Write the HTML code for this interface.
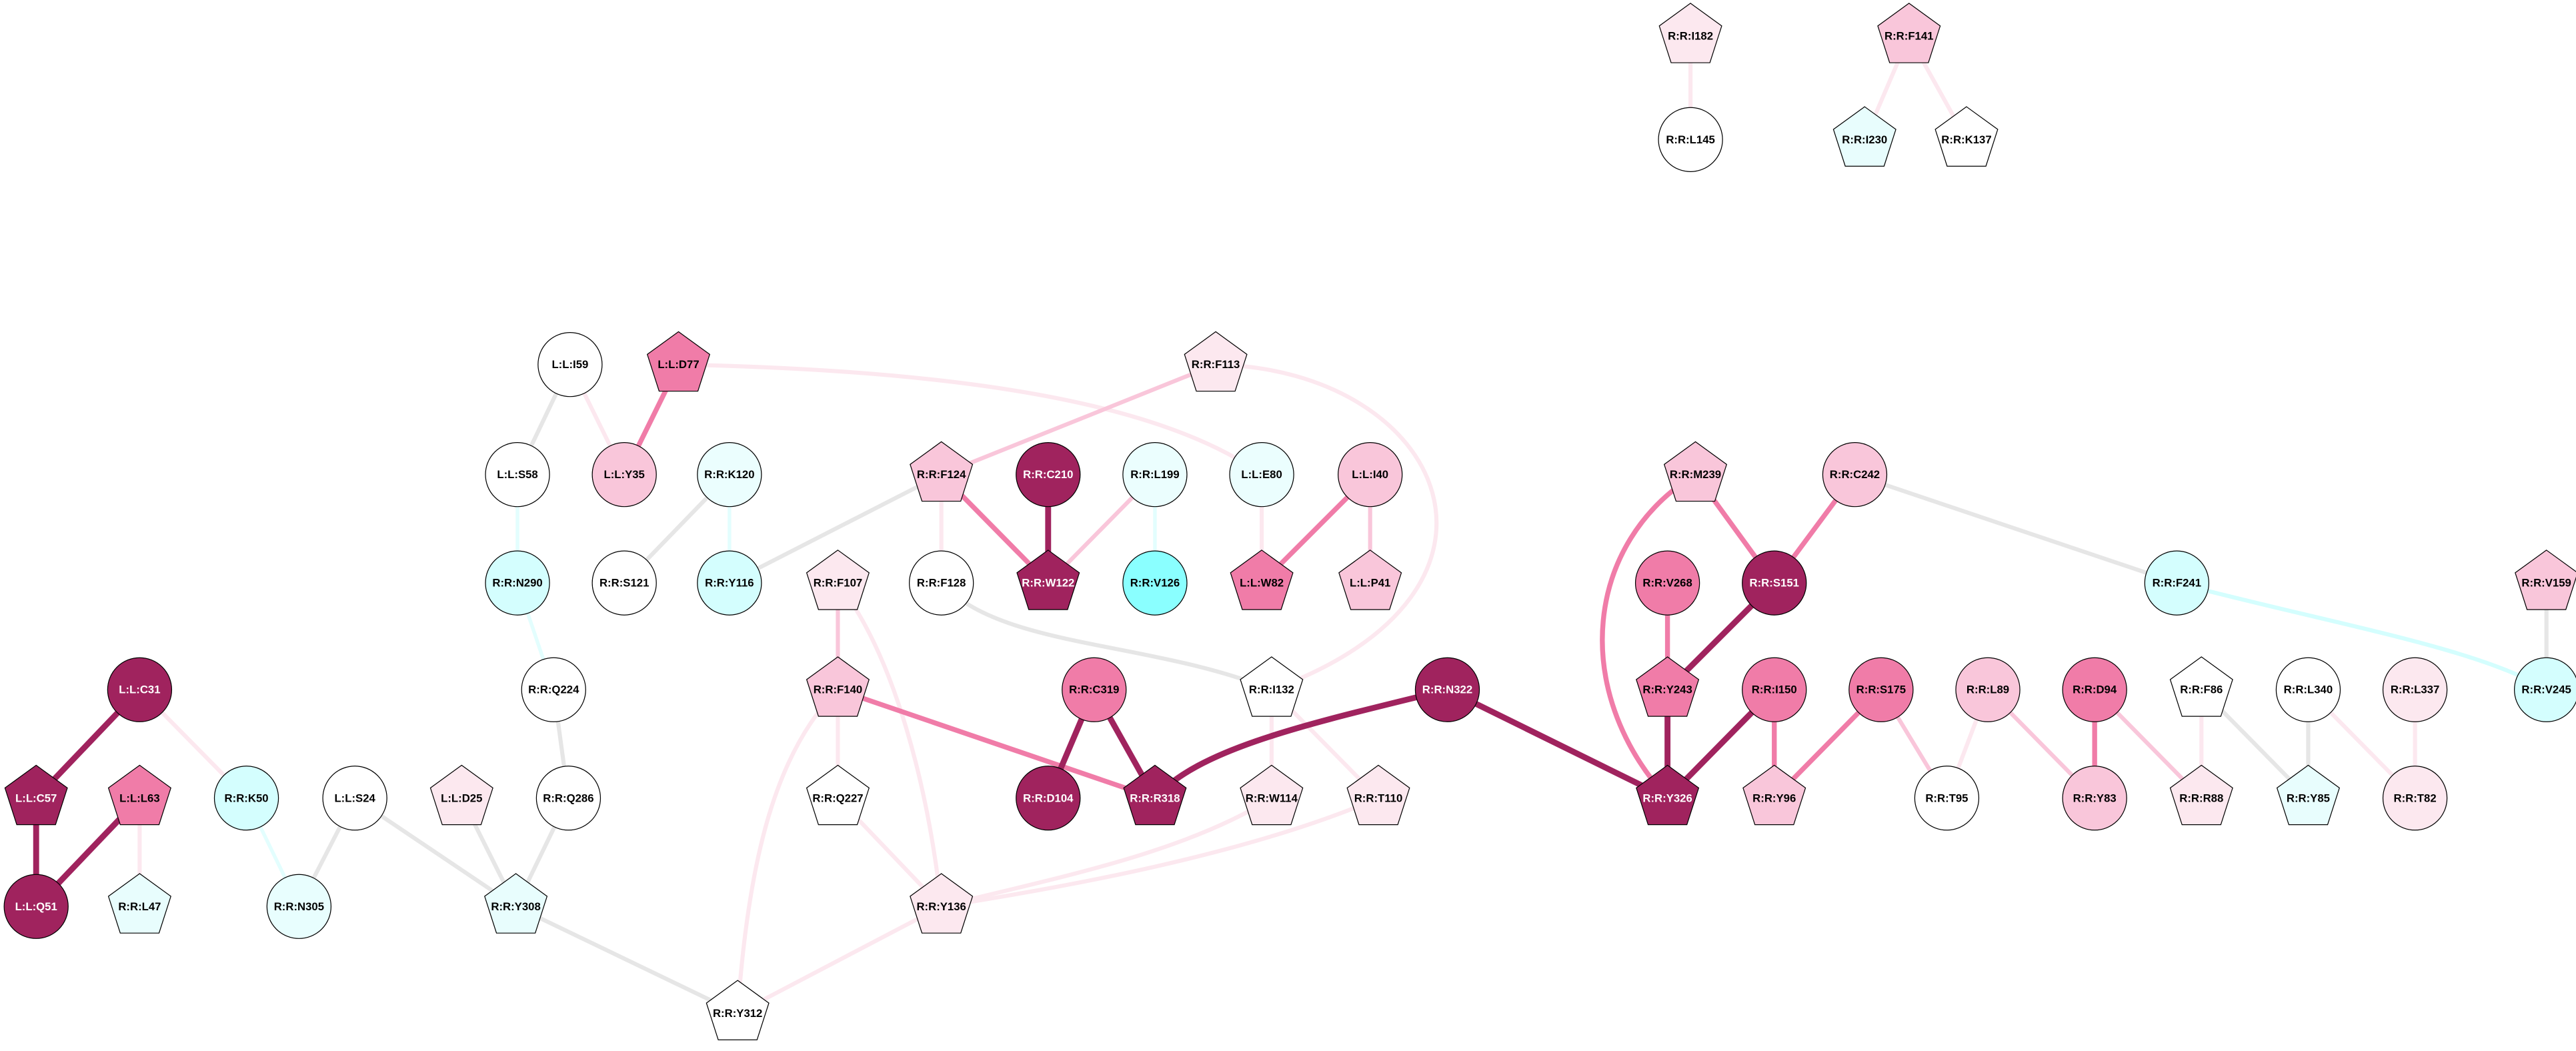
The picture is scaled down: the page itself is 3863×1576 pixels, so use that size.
<!DOCTYPE html>
<html><head><meta charset="utf-8"><style>
html,body{margin:0;padding:0;background:#fff;}
svg{display:block;}
text{font-family:"Liberation Sans",sans-serif;font-weight:bold;font-size:6.8px;text-anchor:middle;dominant-baseline:central;}
</style></head><body>
<svg width="3863" height="1576" viewBox="0 0 1568 640" preserveAspectRatio="none" xmlns="http://www.w3.org/2000/svg">
<defs>
<polygon id="pg" points="0,-20 19,-6.2 11.8,16.2 -11.8,16.2 -19,-6.2" stroke="#000" stroke-width="0.5"/>
</defs>
<g fill="none" stroke-linecap="butt">
<!-- light pink -->
<g stroke="#fce8ef" stroke-width="2.5">
<line x1="1029" y1="22" x2="1029" y2="85"/>
<line x1="1162" y1="22" x2="1135" y2="85"/>
<line x1="1162" y1="22" x2="1197" y2="85"/>
<line x1="347" y1="222" x2="380" y2="289"/>
<path d="M413,222 C560,225 700,240 768,289"/>
<path d="M740,222 C880,225 940,360 774,420"/>
<line x1="573" y1="289" x2="573" y2="355"/>
<line x1="768" y1="289" x2="768" y2="355"/>
<line x1="85" y1="420" x2="150" y2="486"/>
<line x1="85" y1="486" x2="85" y2="552"/>
<path d="M510,355 C545,400 565,480 573,552"/>
<line x1="510" y1="420" x2="510" y2="486"/>
<path d="M510,420 C470,460 455,530 449,617"/>
<line x1="510" y1="486" x2="573" y2="552"/>
<line x1="774" y1="420" x2="774" y2="486"/>
<line x1="774" y1="420" x2="839" y2="486"/>
<path d="M774,486 C720,520 640,535 573,552"/>
<path d="M839,486 C760,520 650,540 573,552"/>
<line x1="573" y1="552" x2="449" y2="617"/>
<line x1="1210" y1="420" x2="1185" y2="486"/>
<line x1="1340" y1="420" x2="1340" y2="486"/>
<line x1="1405" y1="420" x2="1470" y2="486"/>
<line x1="1470" y1="420" x2="1470" y2="486"/>
</g>
<!-- pink -->
<g stroke="#f9c6da" stroke-width="2.5">
<line x1="740" y1="222" x2="573" y2="289"/>
<line x1="703" y1="289" x2="638" y2="355"/>
<line x1="834" y1="289" x2="834" y2="355"/>
<line x1="510" y1="355" x2="510" y2="420"/>
<line x1="1145" y1="420" x2="1185" y2="486"/>
<line x1="1210" y1="420" x2="1275" y2="486"/>
<line x1="1275" y1="420" x2="1340" y2="486"/>
</g>
<!-- gray -->
<g stroke="#e6e6e6" stroke-width="2.5">
<line x1="347" y1="222" x2="315" y2="289"/>
<line x1="444" y1="289" x2="380" y2="355"/>
<line x1="573" y1="289" x2="444" y2="355"/>
<path d="M573,355 C610,395 700,390 774,420"/>
<line x1="337" y1="420" x2="346" y2="486"/>
<line x1="346" y1="486" x2="314" y2="552"/>
<line x1="216" y1="486" x2="182" y2="552"/>
<line x1="216" y1="486" x2="314" y2="552"/>
<line x1="281" y1="486" x2="314" y2="552"/>
<line x1="314" y1="552" x2="449" y2="617"/>
<line x1="1129" y1="289" x2="1325" y2="355"/>
<line x1="1340" y1="420" x2="1405" y2="486"/>
<line x1="1405" y1="420" x2="1405" y2="486"/>
<line x1="1550" y1="355" x2="1550" y2="420"/>
</g>
<!-- cyan -->
<g stroke="#e3fefe" stroke-width="2.2">
<line x1="444" y1="289" x2="444" y2="355"/>
<line x1="703" y1="289" x2="703" y2="355"/>
<line x1="315" y1="289" x2="315" y2="355"/>
<line x1="315" y1="355" x2="337" y2="420"/>
<line x1="150" y1="486" x2="182" y2="552"/>
</g>
<path d="M1325,355 C1420,380 1510,395 1550,420" stroke="#d4fefe" stroke-width="2.5"/>
<!-- hot pink -->
<g stroke="#f07ca8" stroke-width="3">
<line x1="413" y1="222" x2="380" y2="289"/>
<line x1="573" y1="289" x2="638" y2="355"/>
<line x1="834" y1="289" x2="768" y2="355"/>
<line x1="510" y1="420" x2="703" y2="486"/>
<path d="M1032,289 C965,330 955,420 1015,486"/>
<line x1="1032" y1="289" x2="1080" y2="355"/>
<line x1="1129" y1="289" x2="1080" y2="355"/>
<line x1="1015" y1="355" x2="1015" y2="420"/>
<line x1="1080" y1="420" x2="1080" y2="486"/>
<line x1="1145" y1="420" x2="1080" y2="486"/>
<line x1="1275" y1="420" x2="1275" y2="486"/>
</g>
<!-- dark -->
<g stroke="#a0235e" stroke-width="3.6">
<line x1="638" y1="289" x2="638" y2="355"/>
<line x1="85" y1="420" x2="22" y2="486"/>
<line x1="22" y1="486" x2="22" y2="552"/>
<line x1="85" y1="486" x2="22" y2="552"/>
<line x1="666" y1="420" x2="638" y2="486"/>
<line x1="666" y1="420" x2="703" y2="486"/>
<path d="M881,420 C800,440 730,455 703,486"/>
<line x1="881" y1="420" x2="1015" y2="486"/>
<line x1="1080" y1="355" x2="1015" y2="420"/>
<line x1="1015" y1="420" x2="1015" y2="486"/>
<line x1="1080" y1="420" x2="1015" y2="486"/>
</g>
</g>
<!-- nodes -->
<g stroke="#000" stroke-width="0.5">
<!-- circles -->
<circle cx="1029" cy="85" r="19.5" fill="#fff"/>
<circle cx="347" cy="222" r="19.5" fill="#fff"/>
<circle cx="315" cy="289" r="19.5" fill="#fff"/>
<circle cx="380" cy="289" r="19.5" fill="#f9c6da"/>
<circle cx="444" cy="289" r="19.5" fill="#ebfefe"/>
<circle cx="638" cy="289" r="19.5" fill="#a0235e"/>
<circle cx="703" cy="289" r="19.5" fill="#ebfefe"/>
<circle cx="768" cy="289" r="19.5" fill="#ebfefe"/>
<circle cx="834" cy="289" r="19.5" fill="#f9c6da"/>
<circle cx="1129" cy="289" r="19.5" fill="#f9c6da"/>
<circle cx="315" cy="355" r="19.5" fill="#d4fefe"/>
<circle cx="380" cy="355" r="19.5" fill="#fff"/>
<circle cx="444" cy="355" r="19.5" fill="#d4fefe"/>
<circle cx="573" cy="355" r="19.5" fill="#fff"/>
<circle cx="703" cy="355" r="19.5" fill="#8affff"/>
<circle cx="1015" cy="355" r="19.5" fill="#f07ca8"/>
<circle cx="1080" cy="355" r="19.5" fill="#a0235e"/>
<circle cx="1325" cy="355" r="19.5" fill="#d4fefe"/>
<circle cx="85" cy="420" r="19.5" fill="#a0235e"/>
<circle cx="337" cy="420" r="19.5" fill="#fff"/>
<circle cx="666" cy="420" r="19.5" fill="#f07ca8"/>
<circle cx="881" cy="420" r="19.5" fill="#a0235e"/>
<circle cx="1080" cy="420" r="19.5" fill="#f07ca8"/>
<circle cx="1145" cy="420" r="19.5" fill="#f07ca8"/>
<circle cx="1210" cy="420" r="19.5" fill="#f9c6da"/>
<circle cx="1275" cy="420" r="19.5" fill="#f07ca8"/>
<circle cx="1405" cy="420" r="19.5" fill="#fff"/>
<circle cx="1470" cy="420" r="19.5" fill="#fce8ef"/>
<circle cx="1550" cy="420" r="19.5" fill="#d4fefe"/>
<circle cx="150" cy="486" r="19.5" fill="#d4fefe"/>
<circle cx="216" cy="486" r="19.5" fill="#fff"/>
<circle cx="346" cy="486" r="19.5" fill="#fff"/>
<circle cx="638" cy="486" r="19.5" fill="#a0235e"/>
<circle cx="1185" cy="486" r="19.5" fill="#fff"/>
<circle cx="1275" cy="486" r="19.5" fill="#f9c6da"/>
<circle cx="1470" cy="486" r="19.5" fill="#fce8ef"/>
<circle cx="22" cy="552" r="19.5" fill="#a0235e"/>
<circle cx="182" cy="552" r="19.5" fill="#e8fefe"/>
</g>
<!-- pentagons -->
<use href="#pg" x="1029" y="22" fill="#fce8ef"/>
<use href="#pg" x="1162" y="22" fill="#f9c6da"/>
<use href="#pg" x="1135" y="85" fill="#e8fdfd"/>
<use href="#pg" x="1197" y="85" fill="#fff"/>
<use href="#pg" x="413" y="222" fill="#f07ca8"/>
<use href="#pg" x="740" y="222" fill="#fce8ef"/>
<use href="#pg" x="573" y="289" fill="#f9c6da"/>
<use href="#pg" x="1032" y="289" fill="#f9c6da"/>
<use href="#pg" x="510" y="355" fill="#fce8ef"/>
<use href="#pg" x="638" y="355" fill="#a0235e"/>
<use href="#pg" x="768" y="355" fill="#f07ca8"/>
<use href="#pg" x="834" y="355" fill="#f9c6da"/>
<use href="#pg" x="1550" y="355" fill="#f9c6da"/>
<use href="#pg" x="510" y="420" fill="#f9c6da"/>
<use href="#pg" x="774" y="420" fill="#fff"/>
<use href="#pg" x="1015" y="420" fill="#f07ca8"/>
<use href="#pg" x="1340" y="420" fill="#fff"/>
<use href="#pg" x="22" y="486" fill="#a0235e"/>
<use href="#pg" x="85" y="486" fill="#f07ca8"/>
<use href="#pg" x="281" y="486" fill="#fce8ef"/>
<use href="#pg" x="510" y="486" fill="#fff"/>
<use href="#pg" x="703" y="486" fill="#a0235e"/>
<use href="#pg" x="774" y="486" fill="#fce8ef"/>
<use href="#pg" x="839" y="486" fill="#fce8ef"/>
<use href="#pg" x="1015" y="486" fill="#a0235e"/>
<use href="#pg" x="1080" y="486" fill="#f9c6da"/>
<use href="#pg" x="1340" y="486" fill="#fce8ef"/>
<use href="#pg" x="1405" y="486" fill="#e8fdfd"/>
<use href="#pg" x="85" y="552" fill="#e8fdfd"/>
<use href="#pg" x="314" y="552" fill="#e8fdfd"/>
<use href="#pg" x="573" y="552" fill="#fce8ef"/>
<use href="#pg" x="449" y="617" fill="#fff"/>
<!-- labels -->
<g fill="#000">
<text x="1029" y="22">R:R:I182</text>
<text x="1029" y="85">R:R:L145</text>
<text x="1162" y="22">R:R:F141</text>
<text x="1135" y="85">R:R:I230</text>
<text x="1197" y="85">R:R:K137</text>
<text x="347" y="222">L:L:I59</text>
<text x="413" y="222">L:L:D77</text>
<text x="740" y="222">R:R:F113</text>
<text x="315" y="289">L:L:S58</text>
<text x="380" y="289">L:L:Y35</text>
<text x="444" y="289">R:R:K120</text>
<text x="573" y="289">R:R:F124</text>
<text x="703" y="289">R:R:L199</text>
<text x="768" y="289">L:L:E80</text>
<text x="834" y="289">L:L:I40</text>
<text x="1032" y="289">R:R:M239</text>
<text x="1129" y="289">R:R:C242</text>
<text x="315" y="355">R:R:N290</text>
<text x="380" y="355">R:R:S121</text>
<text x="444" y="355">R:R:Y116</text>
<text x="510" y="355">R:R:F107</text>
<text x="573" y="355">R:R:F128</text>
<text x="703" y="355">R:R:V126</text>
<text x="768" y="355">L:L:W82</text>
<text x="834" y="355">L:L:P41</text>
<text x="1015" y="355">R:R:V268</text>
<text x="1325" y="355">R:R:F241</text>
<text x="1550" y="355">R:R:V159</text>
<text x="337" y="420">R:R:Q224</text>
<text x="510" y="420">R:R:F140</text>
<text x="666" y="420">R:R:C319</text>
<text x="774" y="420">R:R:I132</text>
<text x="1015" y="420">R:R:Y243</text>
<text x="1080" y="420">R:R:I150</text>
<text x="1145" y="420">R:R:S175</text>
<text x="1210" y="420">R:R:L89</text>
<text x="1275" y="420">R:R:D94</text>
<text x="1340" y="420">R:R:F86</text>
<text x="1405" y="420">R:R:L340</text>
<text x="1470" y="420">R:R:L337</text>
<text x="1550" y="420">R:R:V245</text>
<text x="85" y="486">L:L:L63</text>
<text x="150" y="486">R:R:K50</text>
<text x="216" y="486">L:L:S24</text>
<text x="281" y="486">L:L:D25</text>
<text x="346" y="486">R:R:Q286</text>
<text x="510" y="486">R:R:Q227</text>
<text x="774" y="486">R:R:W114</text>
<text x="839" y="486">R:R:T110</text>
<text x="1080" y="486">R:R:Y96</text>
<text x="1185" y="486">R:R:T95</text>
<text x="1275" y="486">R:R:Y83</text>
<text x="1340" y="486">R:R:R88</text>
<text x="1405" y="486">R:R:Y85</text>
<text x="1470" y="486">R:R:T82</text>
<text x="85" y="552">R:R:L47</text>
<text x="182" y="552">R:R:N305</text>
<text x="314" y="552">R:R:Y308</text>
<text x="573" y="552">R:R:Y136</text>
<text x="449" y="617">R:R:Y312</text>
</g>
<g fill="#fff">
<text x="638" y="289">R:R:C210</text>
<text x="638" y="355">R:R:W122</text>
<text x="1080" y="355">R:R:S151</text>
<text x="85" y="420">L:L:C31</text>
<text x="881" y="420">R:R:N322</text>
<text x="22" y="486">L:L:C57</text>
<text x="638" y="486">R:R:D104</text>
<text x="703" y="486">R:R:R318</text>
<text x="1015" y="486">R:R:Y326</text>
<text x="22" y="552">L:L:Q51</text>
</g>
</svg>
</body></html>
